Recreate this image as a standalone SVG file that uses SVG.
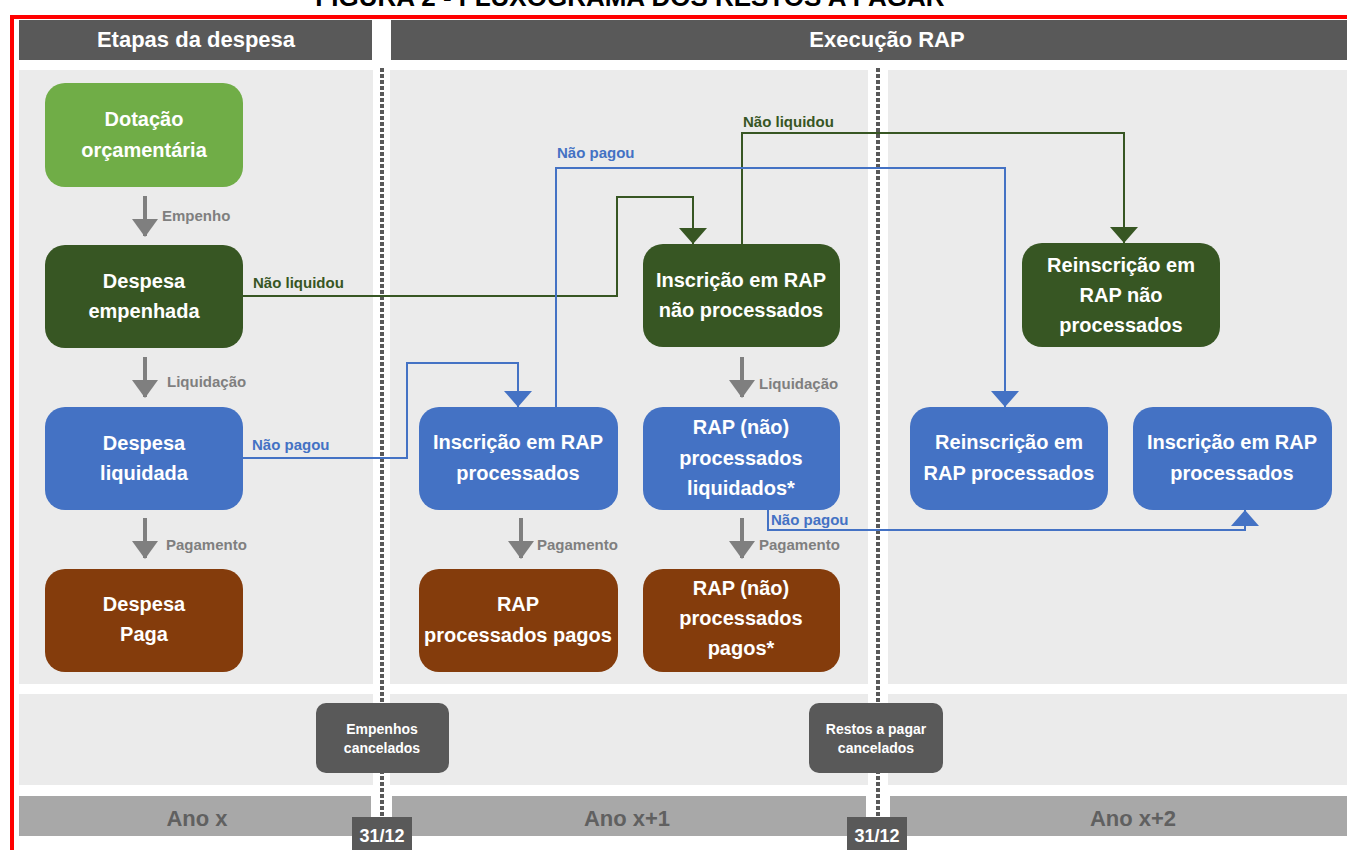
<svg xmlns="http://www.w3.org/2000/svg" width="1347" height="850" viewBox="0 0 1347 850">
<style>
  .hdr{fill:#595959}
  .panel{fill:#ebebeb}
  .band{fill:#a8a8a8}
  .hdrt{font-family:"Liberation Sans",Arial,sans-serif;font-weight:bold;font-size:22px;fill:#ffffff;text-anchor:middle}
  .nt{font-family:"Liberation Sans",Arial,sans-serif;font-weight:bold;font-size:20px;fill:#ffffff;text-anchor:middle}
  .lbl{font-family:"Liberation Sans",Arial,sans-serif;font-weight:bold;font-size:15px}
  .gl{fill:#7f7f7f}
  .grl{fill:#375623}
  .bl{fill:#4472c4}
  .ano{font-family:"Liberation Sans",Arial,sans-serif;font-weight:bold;font-size:22px;fill:#606060;text-anchor:middle}
  .cb{fill:#595959}
  .ct{font-family:"Liberation Sans",Arial,sans-serif;font-weight:bold;font-size:14px;fill:#ffffff;text-anchor:middle}
  .dt{font-family:"Liberation Sans",Arial,sans-serif;font-weight:bold;font-size:18px;fill:#ffffff;text-anchor:middle}
  .lg{fill:#70ad47}
  .dg{fill:#375623}
  .bu{fill:#4472c4}
  .br{fill:#843c0c}
  .garrow{stroke:#7f7f7f;stroke-width:4;fill:none}
  .cg{stroke:#375623;stroke-width:2;fill:none}
  .cbl{stroke:#4472c4;stroke-width:2;fill:none}
  .dash{stroke:#595959;stroke-width:4;stroke-dasharray:4 2;fill:none}
</style>
<defs>
  <marker id="mg" markerUnits="userSpaceOnUse" markerWidth="18" markerHeight="26" refX="17" refY="13" orient="auto">
    <path d="M0,0 L18,13 L0,26 Z" fill="#7f7f7f"/>
  </marker>
  <marker id="mgr" markerUnits="userSpaceOnUse" markerWidth="16" markerHeight="28" refX="16" refY="14" orient="auto">
    <path d="M0,0 L16,14 L0,28 Z" fill="#375623"/>
  </marker>
  <marker id="mbl" markerUnits="userSpaceOnUse" markerWidth="16" markerHeight="28" refX="16" refY="14" orient="auto">
    <path d="M0,0 L16,14 L0,28 Z" fill="#4472c4"/>
  </marker>
</defs>

<rect width="1347" height="850" fill="#ffffff"/>

<text x="630" y="5.5" font-family="Liberation Sans,Arial,sans-serif" font-weight="bold" font-size="26" fill="#000000" text-anchor="middle">FIGURA 2 - FLUXOGRAMA DOS RESTOS A PAGAR</text>

<g id="background">
  <rect class="hdr" x="19" y="20" width="353" height="40"/>
  <rect class="hdr" x="391" y="20" width="956" height="40"/>
  <text class="hdrt" x="196" y="47">Etapas da despesa</text>
  <text class="hdrt" x="887" y="47">Execução RAP</text>
  <rect class="panel" x="19" y="70" width="354" height="614"/>
  <rect class="panel" x="390" y="70" width="478" height="614"/>
  <rect class="panel" x="888" y="70" width="459" height="614"/>
  <rect class="panel" x="19" y="694" width="354" height="91"/>
  <rect class="panel" x="390" y="694" width="478" height="91"/>
  <rect class="panel" x="888" y="694" width="459" height="91"/>
  <rect class="band" x="19" y="796" width="352" height="40"/>
  <rect class="band" x="392" y="796" width="474" height="40"/>
  <rect class="band" x="890" y="796" width="457" height="40"/>
  <text class="ano" x="197" y="826">Ano x</text>
  <text class="ano" x="627" y="826">Ano x+1</text>
  <text class="ano" x="1133" y="826">Ano x+2</text>
  <line class="dash" x1="382" y1="68" x2="382" y2="850"/>
  <line class="dash" x1="878" y1="68" x2="878" y2="850"/>
</g>

<g id="connectors">
  <line class="garrow" x1="145" y1="196" x2="145" y2="236" marker-end="url(#mg)"/>
  <text class="lbl gl" x="162" y="221">Empenho</text>
  <line class="garrow" x1="145" y1="357" x2="145" y2="397" marker-end="url(#mg)"/>
  <text class="lbl gl" x="167" y="387">Liquidação</text>
  <line class="garrow" x1="145" y1="518" x2="145" y2="558" marker-end="url(#mg)"/>
  <text class="lbl gl" x="166" y="550">Pagamento</text>
  <line class="garrow" x1="521" y1="518" x2="521" y2="558" marker-end="url(#mg)"/>
  <text class="lbl gl" x="537" y="550">Pagamento</text>
  <line class="garrow" x1="742" y1="357" x2="742" y2="397" marker-end="url(#mg)"/>
  <text class="lbl gl" x="759" y="389">Liquidação</text>
  <line class="garrow" x1="742" y1="518" x2="742" y2="558" marker-end="url(#mg)"/>
  <text class="lbl gl" x="759" y="550">Pagamento</text>

  <path class="cg" d="M243,296 H617 V197 H693 V244" marker-end="url(#mgr)"/>
  <text class="lbl grl" x="253" y="288">Não liquidou</text>
  <path class="cg" d="M742,244 V133 H1124 V243" marker-end="url(#mgr)"/>
  <text class="lbl grl" x="743" y="127">Não liquidou</text>

  <path class="cbl" d="M243,458 H407 V363 H518 V407" marker-end="url(#mbl)"/>
  <text class="lbl bl" x="252" y="450">Não pagou</text>
  <path class="cbl" d="M556,407 V168 H1005 V407" marker-end="url(#mbl)"/>
  <text class="lbl bl" x="557" y="158">Não pagou</text>
  <path class="cbl" d="M768,509 V530 H1245 V510" marker-end="url(#mbl)"/>
  <text class="lbl bl" x="771" y="525">Não pagou</text>
</g>

<g id="n-dotacao">
  <rect class="lg" x="45" y="83" width="198" height="104" rx="20"/>
  <text class="nt" x="144" y="126">Dotação</text>
  <text class="nt" x="144" y="157">orçamentária</text>
</g>
<g id="n-empenhada">
  <rect class="dg" x="45" y="245" width="198" height="103" rx="20"/>
  <text class="nt" x="144" y="288">Despesa</text>
  <text class="nt" x="144" y="318">empenhada</text>
</g>
<g id="n-liquidada">
  <rect class="bu" x="45" y="407" width="198" height="103" rx="20"/>
  <text class="nt" x="144" y="450">Despesa</text>
  <text class="nt" x="144" y="480">liquidada</text>
</g>
<g id="n-paga">
  <rect class="br" x="45" y="569" width="198" height="103" rx="20"/>
  <text class="nt" x="144" y="611">Despesa</text>
  <text class="nt" x="144" y="641">Paga</text>
</g>
<g id="n-insc-proc">
  <rect class="bu" x="419" y="407" width="199" height="103" rx="20"/>
  <text class="nt" x="518" y="449">Inscrição em RAP</text>
  <text class="nt" x="518" y="480">processados</text>
</g>
<g id="n-proc-pagos">
  <rect class="br" x="419" y="569" width="199" height="103" rx="20"/>
  <text class="nt" x="518" y="611">RAP</text>
  <text class="nt" x="518" y="642">processados pagos</text>
</g>
<g id="n-insc-nproc">
  <rect class="dg" x="643" y="244" width="197" height="103" rx="20"/>
  <text class="nt" x="741" y="287">Inscrição em RAP</text>
  <text class="nt" x="741" y="317">não processados</text>
</g>
<g id="n-nproc-liq">
  <rect class="bu" x="643" y="407" width="197" height="103" rx="20"/>
  <text class="nt" x="741" y="434">RAP (não)</text>
  <text class="nt" x="741" y="465">processados</text>
  <text class="nt" x="741" y="495">liquidados*</text>
</g>
<g id="n-nproc-pagos">
  <rect class="br" x="643" y="569" width="197" height="103" rx="20"/>
  <text class="nt" x="741" y="595">RAP (não)</text>
  <text class="nt" x="741" y="625">processados</text>
  <text class="nt" x="741" y="655">pagos*</text>
</g>
<g id="n-reinsc-nproc">
  <rect class="dg" x="1022" y="243" width="198" height="104" rx="20"/>
  <text class="nt" x="1121" y="272">Reinscrição em</text>
  <text class="nt" x="1121" y="302">RAP não</text>
  <text class="nt" x="1121" y="332">processados</text>
</g>
<g id="n-reinsc-proc">
  <rect class="bu" x="910" y="407" width="198" height="103" rx="20"/>
  <text class="nt" x="1009" y="449">Reinscrição em</text>
  <text class="nt" x="1009" y="480">RAP processados</text>
</g>
<g id="n-insc-proc2">
  <rect class="bu" x="1133" y="407" width="199" height="103" rx="20"/>
  <text class="nt" x="1232" y="449">Inscrição em RAP</text>
  <text class="nt" x="1232" y="480">processados</text>
</g>
<g id="n-emp-canc">
  <rect class="cb" x="316" y="703" width="133" height="70" rx="10"/>
  <text class="ct" x="382" y="734">Empenhos</text>
  <text class="ct" x="382" y="753">cancelados</text>
</g>
<g id="n-rap-canc">
  <rect class="cb" x="809" y="703" width="134" height="70" rx="10"/>
  <text class="ct" x="876" y="734">Restos a pagar</text>
  <text class="ct" x="876" y="753">cancelados</text>
</g>
<g id="n-date1">
  <rect class="cb" x="352" y="817" width="60" height="33"/>
  <text class="dt" x="382" y="842">31/12</text>
</g>
<g id="n-date2">
  <rect class="cb" x="847" y="817" width="60" height="33"/>
  <text class="dt" x="877" y="842">31/12</text>
</g>

<g id="frame">
  <line x1="10" y1="17" x2="1347" y2="17" stroke="#ff0000" stroke-width="4"/>
  <line x1="12" y1="15" x2="12" y2="850" stroke="#ff0000" stroke-width="4"/>
</g>
</svg>
